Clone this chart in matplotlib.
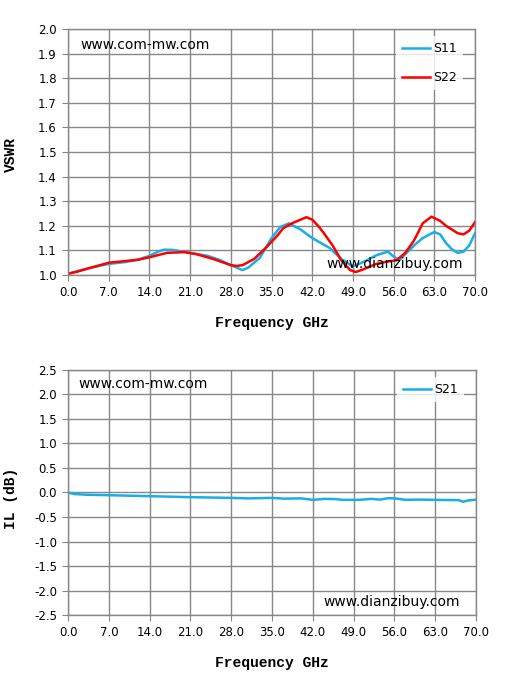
import matplotlib
matplotlib.use("Agg")
import matplotlib.pyplot as plt
import numpy as np

# VSWR data
freq_s11 = [0, 1.5, 3.5, 5.5, 7, 10, 12, 14, 15.5, 16.5, 18, 19, 21, 24, 26, 28, 29.5, 30, 31, 33,
            35, 36.5, 38, 40, 42, 45, 47, 49, 51, 53, 55, 56, 57, 58, 59.5, 61, 63, 64, 65, 66,
            67, 68, 69, 70]
s11 = [1.005, 1.015, 1.027, 1.038, 1.045, 1.053, 1.062, 1.078, 1.095, 1.103, 1.102, 1.098, 1.09,
       1.078, 1.062, 1.04, 1.025, 1.02, 1.03, 1.07, 1.15, 1.195, 1.21, 1.185, 1.15, 1.11, 1.065,
       1.035, 1.055, 1.08, 1.095, 1.075, 1.06, 1.085, 1.12, 1.15, 1.175, 1.165, 1.13, 1.105,
       1.09, 1.095, 1.12, 1.17]

freq_s22 = [0, 1.5, 3.5, 5.5, 7, 10, 12, 14, 17, 20, 22, 25, 28, 29, 30, 32, 34, 35, 36, 37,
            38.5, 40, 41, 42, 43, 44, 45.5, 47, 48.5, 49.5, 51, 53, 55, 56.5, 58, 59.5, 61, 62.5,
            64, 65, 66, 67, 68, 69, 70]
s22 = [1.005, 1.013, 1.027, 1.04, 1.05, 1.057, 1.062, 1.072, 1.09, 1.093, 1.085, 1.065, 1.04,
       1.037, 1.04, 1.065, 1.11, 1.135, 1.16, 1.19, 1.21, 1.225, 1.235, 1.225, 1.2, 1.17, 1.12,
       1.06, 1.02, 1.012, 1.025, 1.045, 1.055, 1.06, 1.09, 1.14, 1.21, 1.237, 1.22, 1.2, 1.185,
       1.17, 1.165, 1.18, 1.215]

# Insertion loss data
freq_s21 = [0, 1, 3, 7, 14, 21, 28, 31, 35, 37, 40, 42, 44, 46, 47, 50, 52, 53.5, 55, 56, 58,
            60, 63, 66, 67, 67.8, 68.5, 70]
s21 = [0.0, -0.03, -0.045, -0.055, -0.075, -0.095, -0.11, -0.12, -0.11, -0.125, -0.12, -0.15,
       -0.13, -0.135, -0.15, -0.15, -0.13, -0.145, -0.115, -0.12, -0.15, -0.145, -0.15, -0.155,
       -0.155, -0.19, -0.165, -0.145]

xticks = np.arange(0, 70.1, 7)
grid_col = "#878787"
blue = "#19aee8"
red = "#ff0000"
label_font = dict(family="Liberation Mono", fontweight="bold", fontsize=10.5)

fig = plt.figure(figsize=(5.05, 6.78), dpi=100)
ax1 = fig.add_axes([0.1347, 0.5944, 0.806, 0.3628])
ax2 = fig.add_axes([0.1347, 0.0929, 0.808, 0.3614])


def style(ax, ylim, yticks, fmt):
    ax.set_xlim(0, 70)
    ax.set_ylim(*ylim)
    ax.set_xticks(xticks)
    ax.set_xticklabels(["%.1f" % v for v in xticks])
    ax.set_yticks(yticks)
    ax.set_yticklabels([fmt % v for v in yticks])
    ax.grid(True, color=grid_col, linewidth=1)
    for s in ax.spines.values():
        s.set_color(grid_col)
        s.set_linewidth(1)
    ax.tick_params(direction="out", length=4, color=grid_col, labelsize=8.5, pad=4)
    ax.set_axisbelow(True)


style(ax1, (1.0, 2.0), np.arange(1.0, 2.01, 0.1), "%.1f")
ax1.plot(freq_s11, s11, color=blue, linewidth=1.8, label="S11")
ax1.plot(freq_s22, s22, color=red, linewidth=1.8, label="S22")
ax1.set_xlabel("Frequency GHz", labelpad=12, **label_font)
fig.text(11 / 505, 1 - 155 / 678, "VSWR", rotation=90, ha="center", va="center", **label_font)
ax1.text(0.03, 0.965, "www.com-mw.com", transform=ax1.transAxes, fontsize=10, va="top")
ax1.text(0.635, 0.015, "www.dianzibuy.com", transform=ax1.transAxes, fontsize=10, va="bottom")
leg1 = ax1.legend(loc="upper right", bbox_to_anchor=(0.985, 0.995), frameon=True,
                  fontsize=9, handlelength=2.2, labelspacing=1.3, borderpad=0.45,
                  handletextpad=0.3)
leg1.get_frame().set_edgecolor("none")
leg1.get_frame().set_boxstyle("square", pad=0)

style(ax2, (-2.5, 2.5), np.arange(-2.5, 2.51, 0.5), "%.1f")
ax2.plot(freq_s21, s21, color=blue, linewidth=1.8, label="S21")
ax2.set_xlabel("Frequency GHz", labelpad=12, **label_font)
fig.text(11 / 505, 1 - 498 / 678, "IL (dB)", rotation=90, ha="center", va="center", **label_font)
ax2.text(0.025, 0.97, "www.com-mw.com", transform=ax2.transAxes, fontsize=10, va="top")
ax2.text(0.625, 0.025, "www.dianzibuy.com", transform=ax2.transAxes, fontsize=10, va="bottom")
leg2 = ax2.legend(loc="upper right", bbox_to_anchor=(0.985, 0.995), frameon=True,
                  fontsize=9, handlelength=2.2, borderpad=0.45, handletextpad=0.3)
leg2.get_frame().set_edgecolor("none")
leg2.get_frame().set_boxstyle("square", pad=0)

fig.savefig("out.png", dpi=100)
